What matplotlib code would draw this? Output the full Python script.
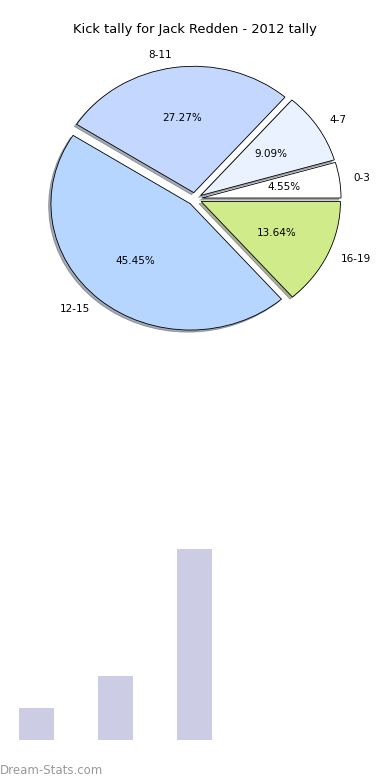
import matplotlib
matplotlib.use('Agg')
import matplotlib.pyplot as plt

# kick tally data
labels = ['0-3', '4-7', '8-11', '12-15', '16-19']
kicks = [1, 2, 6, 10, 3]
colors = ['#ffffff', '#eaf1ff', '#c4d8ff', '#b6d5ff', '#cfeb8a']

bar_vals = [1, 2, 6]

fig = plt.figure(figsize=(3.9, 7.8), dpi=100)

# pie (not forced to equal aspect, like the original)
ax = fig.add_axes([0.053, 0.5425, 0.893, 0.405])
wedges, texts, autotexts = ax.pie(kicks, labels=labels, colors=colors,
                                  explode=[0.05] * 5,
                                  shadow={'ox': -0.012, 'oy': -0.012, 'shade': 0.6},
                                  autopct='%1.2f%%', startangle=0,
                                  wedgeprops={'edgecolor': 'black', 'linewidth': 0.6},
                                  textprops={'fontsize': 7.5})
ax.set_aspect('auto')
ax.set_xlim(-1.25, 1.25)
ax.set_ylim(-1.25, 1.25)

fig.text(0.5, 1 - 30 / 780, 'Kick tally for Jack Redden - 2012 tally',
         ha='center', va='center', fontsize=9.4)

# bar chart below
bx = fig.add_axes([0, 40 / 780, 1, 207 / 780])
bx.bar(range(len(bar_vals)), bar_vals, width=0.443, color='#ccccE5')
bx.set_xlim(-0.462, 4.475)
bx.set_ylim(0, 6.5)
bx.axis('off')

fig.text(0, 1 - 771 / 780, 'Dream-Stats.com', ha='left', va='center',
         fontsize=8.5, color='#999999', fontweight='medium')

plt.savefig('out.png', dpi=100)
